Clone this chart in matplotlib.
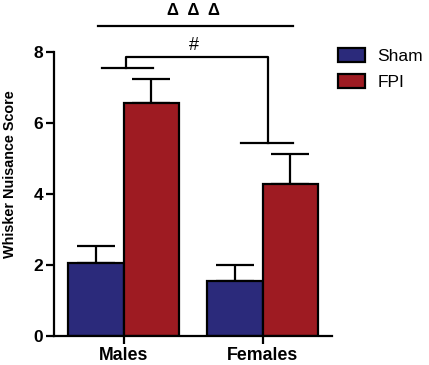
import matplotlib
matplotlib.use('Agg')
import matplotlib.pyplot as plt
import numpy as np

plt.rcParams['font.family'] = ['Liberation Sans', 'DejaVu Sans']

groups = ['Males', 'Females']
series = ['Sham', 'FPI']
sham_mean = [2.06, 1.56]
sham_err = [0.48, 0.44]
fpi_mean = [6.56, 4.28]
fpi_err = [0.68, 0.84]
colors = ['#2B2A7B', '#9E1B22']

fig = plt.figure(figsize=(4.29, 3.65), dpi=100)
ax = fig.add_axes([0.1259, 0.0795, 0.648, 0.778])

x = np.arange(len(groups))
w = 0.4
for i, (m, e, lab) in enumerate([(sham_mean, sham_err, series[0]), (fpi_mean, fpi_err, series[1])]):
    xs = x + (i - 0.5) * w
    ax.bar(xs, m, w, color=colors[i], edgecolor='black', linewidth=1.6, label=lab, zorder=2)
    ax.errorbar(xs, m, yerr=[np.zeros(len(e)), e], fmt='none', ecolor='black',
                elinewidth=1.6, capsize=14, capthick=1.6, zorder=1)

ax.set_xlim(-0.5, 1.5)
ax.set_ylim(0, 8)
ax.set_yticks([0, 2, 4, 6, 8])
ax.set_xticks(x)
ax.set_xticklabels(groups, fontsize=12.8, fontweight='bold')
for t in ax.get_yticklabels():
    t.set_fontsize(12.5)
    t.set_fontweight('bold')
ax.set_ylabel('Whisker Nuisance Score', fontsize=10.4, fontweight='bold')
ax.yaxis.set_label_coords(-0.133, 0.57)
ax.spines['top'].set_visible(False)
ax.spines['right'].set_visible(False)
for s in ['left', 'bottom']:
    ax.spines[s].set_linewidth(1.6)
ax.tick_params(width=1.6, length=6, pad=2)

# significance brackets
kw = dict(color='black', lw=1.6, clip_on=False)
ax.plot([-0.158, 0.209], [7.55, 7.55], **kw)
ax.plot([0.02, 0.02, 1.036, 1.036], [7.55, 7.87, 7.87, 5.45], **kw)
ax.plot([0.842, 1.216], [5.45, 5.45], **kw)
ax.text(0.504, 7.93, '#', ha='center', va='bottom', fontsize=13)
ax.plot([-0.18, 1.216], [8.73, 8.73], **kw)
ax.text(0.504, 8.95, '\u0394  \u0394  \u0394', ha='center', va='bottom', fontsize=12, fontweight='bold')

ax.legend(loc='upper left', bbox_to_anchor=(0.964, 1.07), frameon=False, fontsize=12.5,
          handlelength=1.6, handleheight=0.9, labelspacing=0.55, handletextpad=0.7)

fig.savefig('out.png', dpi=100)
